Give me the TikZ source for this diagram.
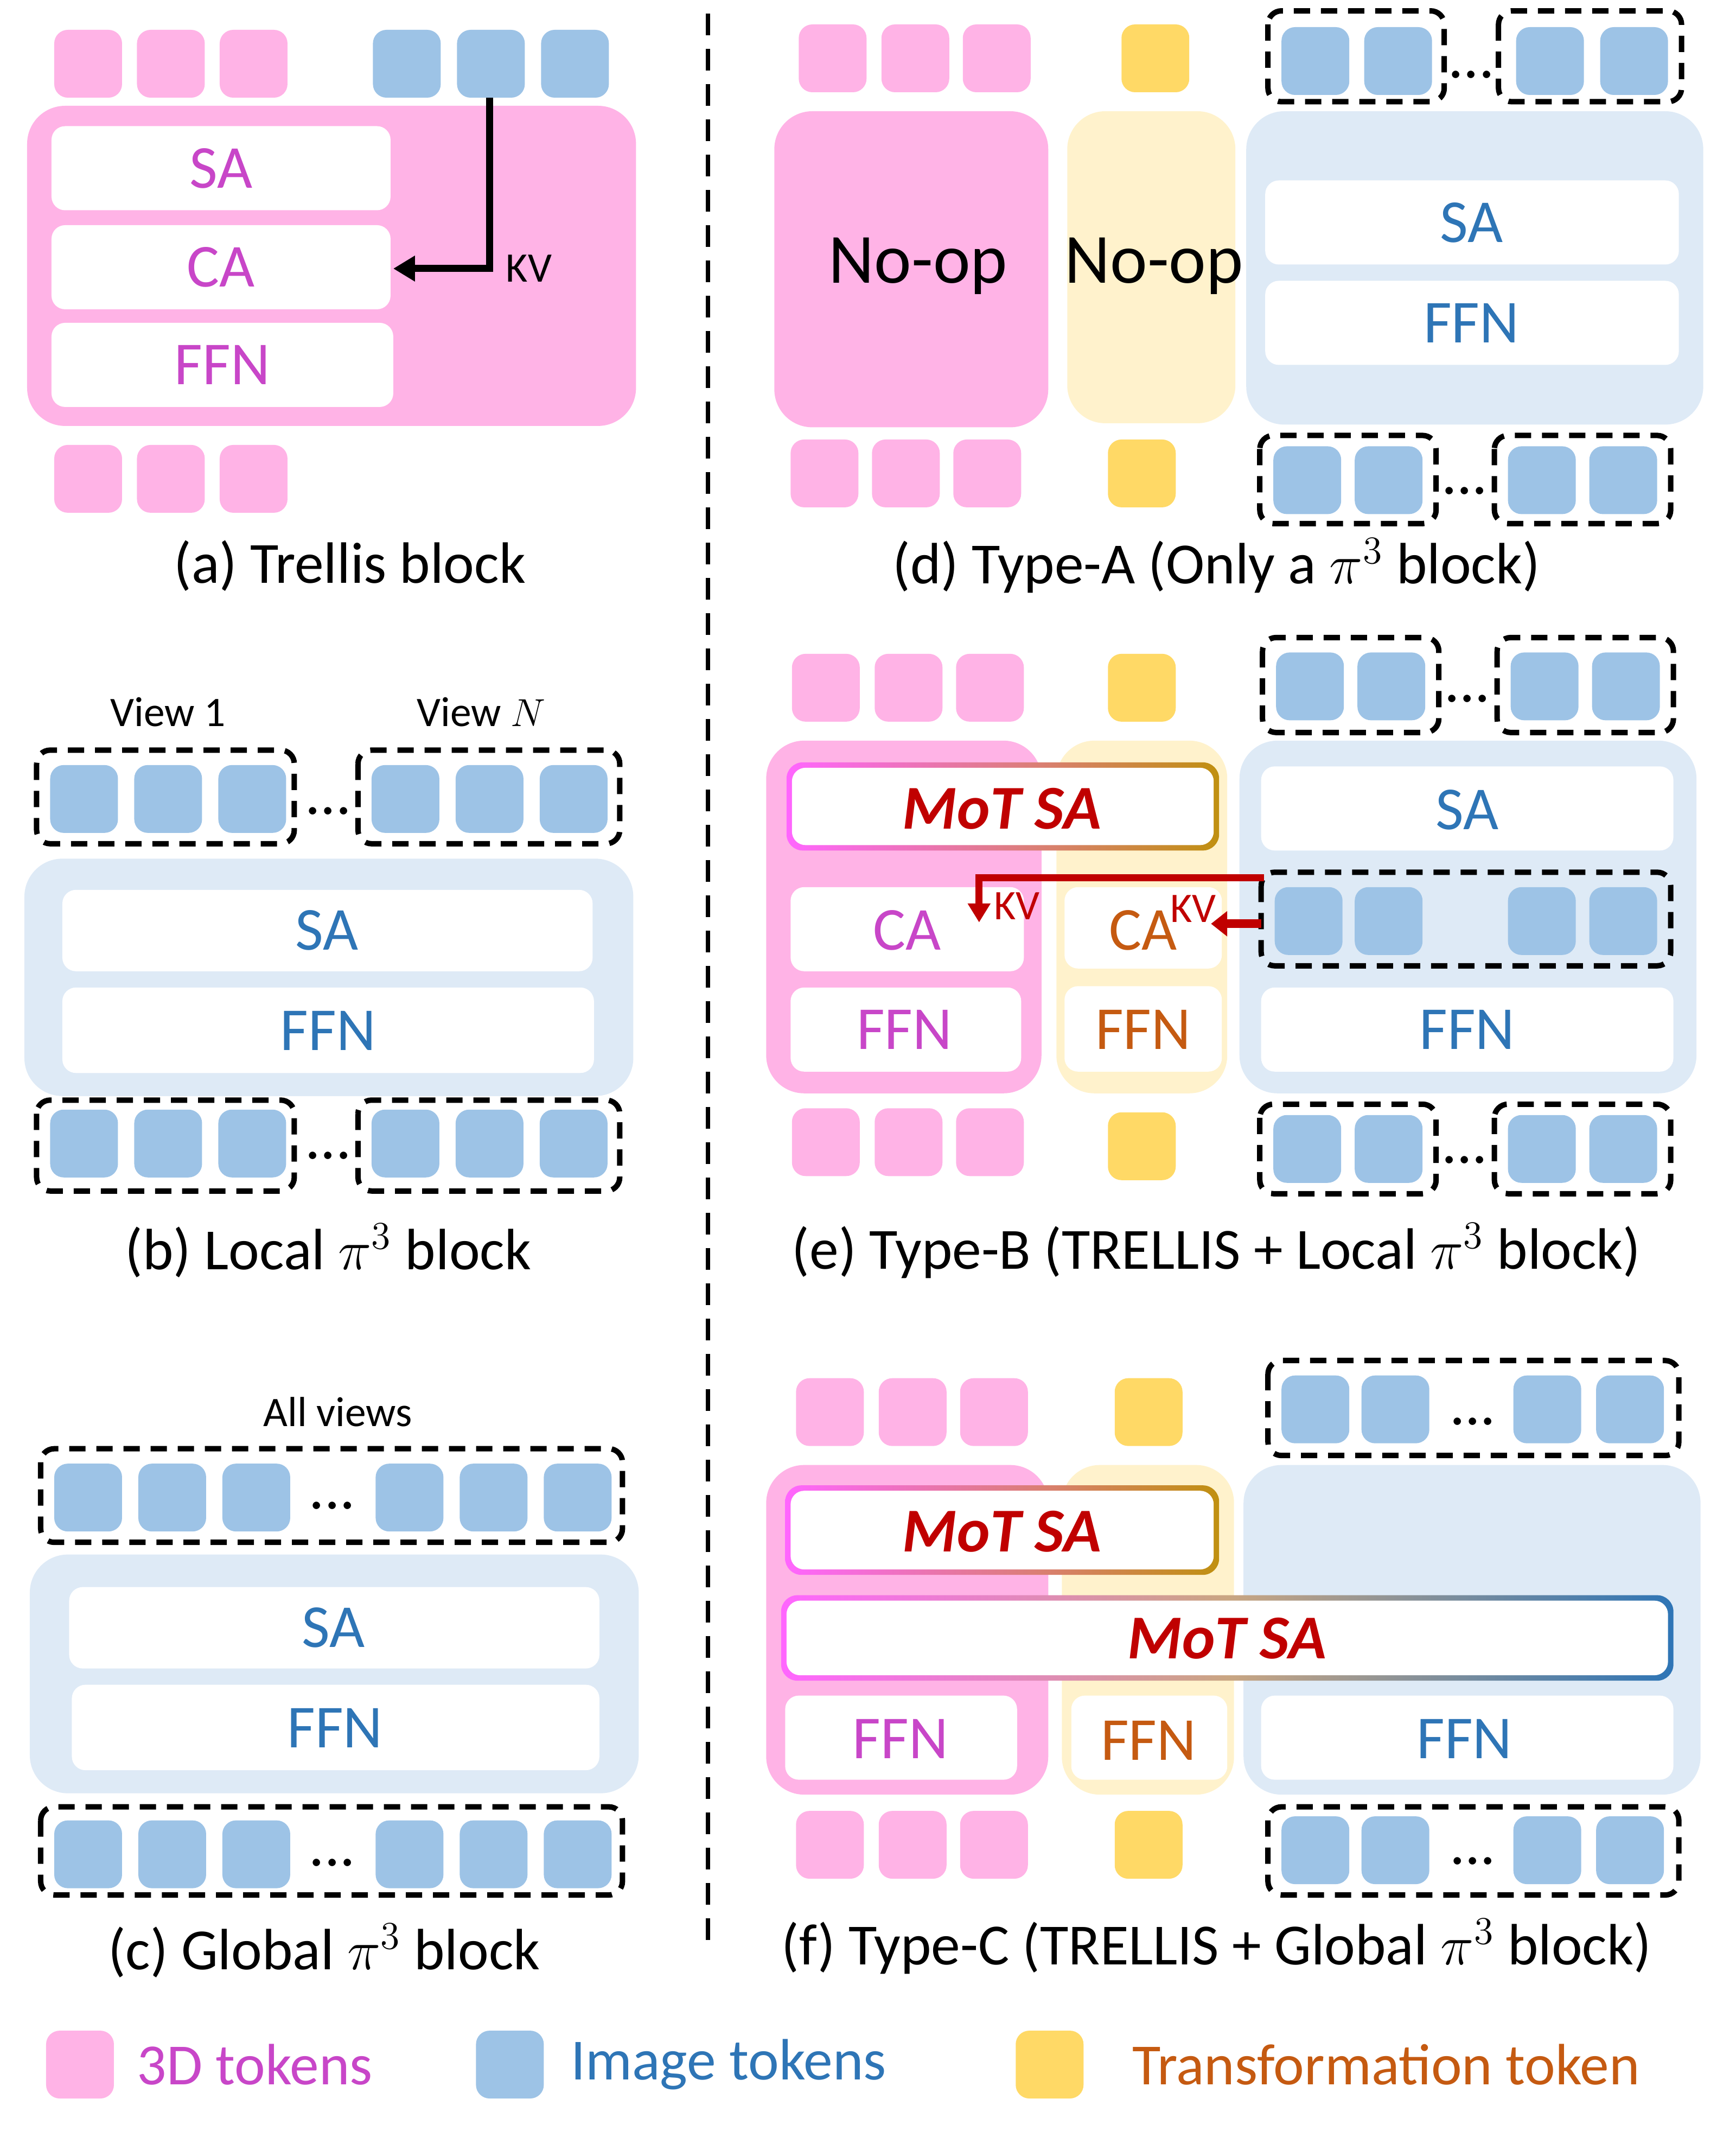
\documentclass[tikz,border=0pt]{standalone}
\usepackage{fontspec}
\setmainfont{Carlito}
\usetikzlibrary{arrows.meta}
\definecolor{pk}{HTML}{FFB3E6}
\definecolor{lb}{HTML}{DEEAF6}
\definecolor{tb}{HTML}{9DC3E6}
\definecolor{yl}{HTML}{FFD966}
\definecolor{ly}{HTML}{FFF2CC}
\definecolor{tm}{HTML}{C846C8}
\definecolor{tbl}{HTML}{2E75B6}
\definecolor{tor}{HTML}{C55A11}
\definecolor{rd}{HTML}{C00000}
\definecolor{gm}{HTML}{FF66FF}
\definecolor{gg}{HTML}{C09010}
\begin{document}
\begin{tikzpicture}[x=0.5pt,y=-0.5pt,
  blk/.style={rounded corners=14},
  wb/.style={fill=white,rounded corners=5},
  dbox/.style={draw=black,line width=2pt,dash pattern=on 6pt off 4pt,rounded corners=5},
  lab/.style={font=\fontsize{22.5}{26}\selectfont},
  capt/.style={font=\fontsize{21.5}{26}\selectfont},
  sm/.style={font=\fontsize{15.5}{18}\selectfont},
  mot/.style={font=\fontsize{23}{26}\selectfont\bfseries\itshape,text=rd}]
\useasboundingbox (0,0) rectangle (1280,1585);
\newcommand\tk[3]{\fill[#1,rounded corners=5] (#2,#3) rectangle ++(50,50);}
% ---------- (a)
\tk{pk}{40}{22}\tk{pk}{101}{22}\tk{pk}{162}{22}
\tk{tb}{275}{22}\tk{tb}{337}{22}\tk{tb}{399}{22}
\fill[pk,blk] (20,78) rectangle (469,314);
\fill[wb] (38,93) rectangle (288,155); \node[lab,text=tm] at (163,124) {SA};
\fill[wb] (38,166) rectangle (288,228); \node[lab,text=tm] (aca) at (163,197) {CA};
\fill[wb] (38,238) rectangle (290,300); \node[lab,text=tm] at (164,269) {FFN};
\coordinate (kvs) at (361,72); \coordinate (kvc) at (361,198); \coordinate (kve) at (290,198);
\draw[line width=2.6pt,-{Triangle[length=8pt,width=9pt]}] (kvs) -- (kvc) -- (kve);
\node[sm] at (390,198) {KV};
\tk{pk}{40}{328}\tk{pk}{101}{328}\tk{pk}{162}{328}
\node[capt] at (258,417) {(a) Trellis block};
% divider
\draw[line width=1.6pt,dash pattern=on 8pt off 5pt] (522,10) -- (522,1430);
% ---------- (b)
\node[sm] at (124,525) {View 1};
\node[sm] at (355,525) {View $N$};
\draw[dbox] (27,553) rectangle (217,622); \draw[dbox] (264,553) rectangle (457,622);
\tk{tb}{37}{564}\tk{tb}{99}{564}\tk{tb}{161}{564}
\tk{tb}{274}{564}\tk{tb}{336}{564}\tk{tb}{398}{564}
\node[lab] at (242,598) {...};
\fill[lb,blk] (18,633) rectangle (467,808);
\fill[wb] (46,656) rectangle (437,716); \node[lab,text=tbl] at (241,686) {SA};
\fill[wb] (46,728) rectangle (438,791); \node[lab,text=tbl] at (242,760) {FFN};
\draw[dbox] (27,811) rectangle (217,878); \draw[dbox] (264,811) rectangle (457,878);
\tk{tb}{37}{818}\tk{tb}{99}{818}\tk{tb}{161}{818}
\tk{tb}{274}{818}\tk{tb}{336}{818}\tk{tb}{398}{818}
\node[lab] at (242,852) {...};
\node[capt] at (242,922) {(b) Local $\pi^3$ block};
% ---------- (c)
\node[sm] at (249,1041) {All views};
\draw[dbox] (30,1068) rectangle (459,1137);
\foreach \x in {40,102,164,277,339,401} {\tk{tb}{\x}{1079}}
\node[lab] at (245,1110) {...};
\fill[lb,blk] (22,1146) rectangle (471,1322);
\fill[wb] (51,1170) rectangle (442,1230); \node[lab,text=tbl] at (246,1200) {SA};
\fill[wb] (53,1242) rectangle (442,1305); \node[lab,text=tbl] at (247,1274) {FFN};
\draw[dbox] (30,1332) rectangle (459,1397);
\foreach \x in {40,102,164,277,339,401} {\tk{tb}{\x}{1342}}
\node[lab] at (245,1373) {...};
\node[capt] at (239,1438) {(c) Global $\pi^3$ block};
% ---------- (d)
\tk{pk}{589}{18}\tk{pk}{650}{18}\tk{pk}{710}{18}
\tk{yl}{827}{18}
\draw[dbox] (935,8) rectangle (1065,75); \draw[dbox] (1105,8) rectangle (1240,75);
\tk{tb}{945}{20}\tk{tb}{1006}{20}\tk{tb}{1118}{20}\tk{tb}{1180}{20}
\node[lab] at (1085,55) {...};
\fill[pk,blk] (571,82) rectangle (773,315); \node[font=\fontsize{26}{28}\selectfont] at (677,196) {No-op};
\fill[ly,blk] (787,82) rectangle (911,312); \node[font=\fontsize{26}{28}\selectfont] at (851,196) {No-op};
\fill[lb,blk] (919,82) rectangle (1256,313);
\fill[wb] (933,133) rectangle (1238,195); \node[lab,text=tbl] at (1085,164) {SA};
\fill[wb] (933,207) rectangle (1238,269); \node[lab,text=tbl] at (1085,238) {FFN};
\tk{pk}{583}{324}\tk{pk}{643}{324}\tk{pk}{703}{324}
\tk{yl}{817}{324}
\draw[dbox] (929,321) rectangle (1059,386); \draw[dbox] (1102,321) rectangle (1232,386);
\tk{tb}{939}{329}\tk{tb}{999}{329}\tk{tb}{1112}{329}\tk{tb}{1172}{329}
\node[lab] at (1080,362) {...};
\node[capt] at (897,417) {(d) Type-A (Only a $\pi^3$ block)};
% ---------- (e)
\tk{pk}{584}{482}\tk{pk}{645}{482}\tk{pk}{705}{482}
\tk{yl}{817}{482}
\draw[dbox] (931,470) rectangle (1061,540); \draw[dbox] (1104,470) rectangle (1234,540);
\tk{tb}{941}{481}\tk{tb}{1001}{481}\tk{tb}{1114}{481}\tk{tb}{1174}{481}
\node[lab] at (1082,515) {...};
\fill[pk,blk] (565,546) rectangle (768,806);
\fill[ly,blk] (779,546) rectangle (905,806);
\fill[lb,blk] (914,546) rectangle (1251,806);
\shade[left color=gm,right color=gg,rounded corners=6] (580,562) rectangle (899,627);
\fill[wb] (584,566) rectangle (895,623); \node[mot] at (739,596) {MoT SA};
\fill[wb] (583,654) rectangle (755,716); \node[lab,text=tm] at (669,686) {CA};
\fill[wb] (583,728) rectangle (753,790); \node[lab,text=tm] at (667,759) {FFN};
\fill[wb] (785,654) rectangle (901,714); \node[lab,text=tor] at (843,686) {CA};
\node[sm,text=rd] at (880,670) {KV};
\fill[wb] (785,727) rectangle (901,790); \node[lab,text=tor] at (843,759) {FFN};
\fill[wb] (930,565) rectangle (1234,627); \node[lab,text=tbl] at (1082,597) {SA};
\draw[dbox] (930,643) rectangle (1232,712);
\tk{tb}{940}{654}\tk{tb}{999}{654}\tk{tb}{1112}{654}\tk{tb}{1172}{654}
\fill[wb] (930,728) rectangle (1234,790); \node[lab,text=tbl] at (1082,759) {FFN};
\coordinate (r1) at (932,647); \coordinate (r2) at (722,647); \coordinate (r3) at (722,680);
\draw[rd,line width=2.6pt,-{Triangle[length=7pt,width=8pt]}] (r1) -- (r2) -- (r3);
\node[sm,text=rd] at (750,668) {KV};
\coordinate (r4) at (930,681); \coordinate (r5) at (893,681);
\draw[rd,line width=3.2pt,-{Triangle[length=6pt,width=9pt]}] (r4) -- (r5);
\tk{pk}{584}{817}\tk{pk}{645}{817}\tk{pk}{705}{817}
\tk{yl}{817}{820}
\draw[dbox] (929,814) rectangle (1059,880); \draw[dbox] (1102,814) rectangle (1232,880);
\tk{tb}{939}{822}\tk{tb}{999}{822}\tk{tb}{1112}{822}\tk{tb}{1172}{822}
\node[lab] at (1080,855) {...};
\node[capt] at (897,922) {(e) Type-B (TRELLIS + Local $\pi^3$ block)};
% ---------- (f)
\tk{pk}{587}{1016}\tk{pk}{648}{1016}\tk{pk}{708}{1016}
\tk{yl}{822}{1016}
\draw[dbox] (935,1003) rectangle (1238,1073);
\tk{tb}{945}{1014}\tk{tb}{1004}{1014}\tk{tb}{1116}{1014}\tk{tb}{1177}{1014}
\node[lab] at (1086,1048) {...};
\fill[pk,blk] (565,1080) rectangle (773,1323);
\fill[ly,blk] (783,1080) rectangle (910,1323);
\fill[lb,blk] (917,1080) rectangle (1254,1323);
\shade[left color=gm,right color=gg,rounded corners=6] (579,1095) rectangle (899,1161);
\fill[wb] (583,1099) rectangle (895,1157); \node[mot] at (739,1129) {MoT SA};
\shade[left color=gm,right color=tbl,middle color=orange!40!gray!70,rounded corners=6] (576,1176) rectangle (1234,1239);
\fill[wb] (580,1180) rectangle (1230,1235); \node[mot] at (905,1208) {MoT SA};
\fill[wb] (579,1250) rectangle (750,1312); \node[lab,text=tm] at (664,1282) {FFN};
\fill[wb] (790,1250) rectangle (905,1312); \node[lab,text=tor] at (847,1283) {FFN};
\fill[wb] (930,1250) rectangle (1234,1312); \node[lab,text=tbl] at (1080,1282) {FFN};
\tk{pk}{587}{1335}\tk{pk}{648}{1335}\tk{pk}{708}{1335}
\tk{yl}{822}{1335}
\draw[dbox] (935,1332) rectangle (1238,1397);
\tk{tb}{945}{1339}\tk{tb}{1004}{1339}\tk{tb}{1116}{1339}\tk{tb}{1177}{1339}
\node[lab] at (1086,1372) {...};
\node[capt] at (897,1435) {(f) Type-C (TRELLIS + Global $\pi^3$ block)};
% ---------- legend
\tk{pk}{34}{1497}\node[capt,text=tm,anchor=west] at (94,1522) {3D tokens};
\tk{tb}{351}{1497}\node[capt,text=tbl,anchor=west] at (414,1522) {Image tokens};
\tk{yl}{749}{1497}\node[capt,text=tor,anchor=west] at (828,1522) {Transformation token};
\end{tikzpicture}
\end{document}
